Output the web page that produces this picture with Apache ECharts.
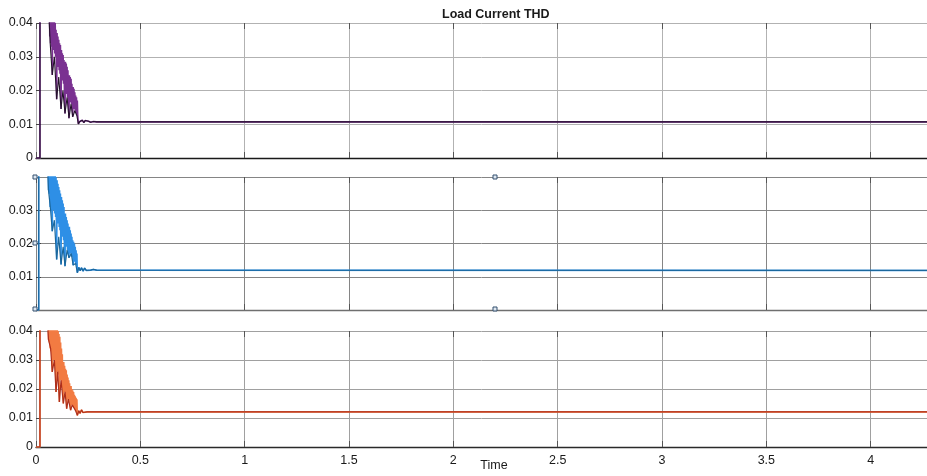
<!DOCTYPE html>
<html>
<head>
<meta charset="utf-8">
<script src="https://cdn.jsdelivr.net/npm/echarts@6/dist/echarts.min.js"></script>
<style>
  html, body { margin: 0; padding: 0; background: #ffffff; }
  #chart { width: 927px; height: 476px; }
</style>
</head>
<body>
<div id="chart"></div>
<script>
// Phase A load current THD (raw, sampled densely through the start-up transient)
const phaseATime = [0, 0.019, 0.019, 0.035, 0.05,
  0.060, 0.062, 0.064, 0.066, 0.068, 0.070, 0.072, 0.074, 0.076, 0.078, 0.080, 0.082, 0.084, 0.086, 0.088,
  0.090, 0.092, 0.094, 0.096, 0.099, 0.101, 0.103, 0.105, 0.107, 0.109, 0.111, 0.113, 0.115, 0.117, 0.120,
  0.122, 0.124, 0.126, 0.128, 0.130, 0.132, 0.134, 0.136, 0.139, 0.141, 0.143, 0.145, 0.147, 0.149, 0.151,
  0.153, 0.155, 0.158, 0.160, 0.162, 0.164, 0.166, 0.168, 0.170, 0.172, 0.174, 0.176, 0.178, 0.180, 0.182,
  0.184, 0.186, 0.188, 0.190, 0.192, 0.194, 0.196, 0.198, 0.200, 0.203,
  0.210, 0.215, 0.222, 0.229, 0.236, 0.243, 0.252, 0.262, 0.275, 0.29, 4.27];
const phaseAThd = [0, 0, 0.075, 0.062, 0.058,
  0.055, 0.041, 0.052, 0.036, 0.050, 0.034, 0.047, 0.033, 0.045, 0.0246, 0.044, 0.033, 0.043, 0.032, 0.042,
  0.031, 0.040, 0.030, 0.038, 0.0174, 0.037, 0.028, 0.036, 0.027, 0.035, 0.026, 0.034, 0.025, 0.0335, 0.0145,
  0.032, 0.024, 0.031, 0.023, 0.0305, 0.022, 0.029, 0.021, 0.0132, 0.0285, 0.020, 0.028, 0.019, 0.027, 0.018,
  0.026, 0.0175, 0.0118, 0.0245, 0.017, 0.024, 0.0165, 0.0235, 0.016, 0.022, 0.0155, 0.0122, 0.021, 0.015, 0.0205,
  0.0145, 0.0195, 0.014, 0.0185, 0.0135, 0.018, 0.013, 0.017, 0.0125, 0.0101,
  0.0108, 0.0104, 0.0112, 0.0105, 0.0111, 0.0106, 0.0109, 0.0106, 0.0108, 0.0107, 0.0107];
// Phase A load current THD (cycle-sampled)
const phaseAFiltTime = [0, 0.019, 0.019, 0.05, 0.068, 0.078, 0.088, 0.099, 0.109, 0.120, 0.129, 0.139,
  0.149, 0.158, 0.168, 0.176, 0.186, 0.196, 0.203, 0.210, 0.215, 0.222, 0.229, 0.236, 0.243, 0.252, 0.262,
  0.275, 0.29, 4.27];
const phaseAFilt = [0, 0, 0.075, 0.058, 0.034, 0.0246, 0.030, 0.0174, 0.024, 0.0145, 0.020, 0.0132,
  0.018, 0.0118, 0.016, 0.0122, 0.014, 0.0125, 0.0101, 0.0108, 0.0104, 0.0112, 0.0105, 0.0111, 0.0106, 0.0109,
  0.0106, 0.0108, 0.0107, 0.0107];

// Phase B load current THD
const phaseBTime = [0, 0.013, 0.013, 0.04, 0.058,
  0.060, 0.062, 0.064, 0.066, 0.068, 0.070, 0.072, 0.074, 0.076, 0.078, 0.080, 0.082, 0.084, 0.086, 0.088,
  0.090, 0.092, 0.094, 0.096, 0.099, 0.101, 0.103, 0.105, 0.107, 0.109, 0.111, 0.113, 0.115, 0.117, 0.120,
  0.122, 0.124, 0.126, 0.128, 0.130, 0.132, 0.134, 0.136, 0.139, 0.141, 0.143, 0.145, 0.147, 0.149, 0.151,
  0.153, 0.155, 0.158, 0.160, 0.162, 0.164, 0.166, 0.168, 0.170, 0.172, 0.174, 0.176, 0.178, 0.180, 0.182,
  0.184, 0.186, 0.188, 0.190, 0.192, 0.194, 0.196, 0.198,
  0.205, 0.212, 0.218, 0.226, 0.233, 0.241, 0.250, 0.262, 0.275, 0.29, 4.27];
const phaseBThd = [0, 0, 0.07, 0.065, 0.06,
  0.036, 0.050, 0.035, 0.048, 0.031, 0.047, 0.030, 0.045, 0.032, 0.0237, 0.044, 0.031, 0.043, 0.030, 0.042,
  0.029, 0.041, 0.028, 0.040, 0.0152, 0.039, 0.027, 0.038, 0.026, 0.037, 0.025, 0.036, 0.024, 0.035, 0.0137,
  0.034, 0.023, 0.033, 0.022, 0.032, 0.021, 0.031, 0.020, 0.0132, 0.029, 0.019, 0.028, 0.019, 0.027, 0.018,
  0.026, 0.018, 0.0157, 0.025, 0.017, 0.024, 0.017, 0.023, 0.016, 0.022, 0.016, 0.021, 0.0135, 0.0205, 0.015,
  0.020, 0.0145, 0.019, 0.014, 0.018, 0.0135, 0.017, 0.0112,
  0.0128, 0.0118, 0.0127, 0.0117, 0.0126, 0.0119, 0.0124, 0.0120, 0.0122, 0.0120, 0.0119];
const phaseBFiltTime = [0, 0.013, 0.013, 0.04, 0.060, 0.070, 0.078, 0.088, 0.099, 0.109, 0.120, 0.130,
  0.139, 0.149, 0.158, 0.169, 0.178, 0.190, 0.198, 0.205, 0.212, 0.218, 0.226, 0.233, 0.241, 0.250, 0.262,
  0.275, 0.29, 4.27];
const phaseBFilt = [0, 0, 0.07, 0.065, 0.036, 0.030, 0.0237, 0.027, 0.0152, 0.022, 0.0137, 0.019,
  0.0132, 0.018, 0.0157, 0.017, 0.0135, 0.014, 0.0112, 0.0128, 0.0118, 0.0127, 0.0117, 0.0126, 0.0119, 0.0124,
  0.0120, 0.0122, 0.0120, 0.0119];

// Phase C load current THD
const phaseCTime = [0, 0.019, 0.019, 0.04, 0.058,
  0.060, 0.062, 0.064, 0.066, 0.068, 0.070, 0.072, 0.074, 0.076, 0.078, 0.080, 0.082, 0.084, 0.086, 0.088,
  0.090, 0.092, 0.094, 0.096, 0.098, 0.100, 0.102, 0.104, 0.106, 0.108, 0.110, 0.112, 0.114, 0.116, 0.118,
  0.120, 0.122, 0.124, 0.126, 0.128, 0.131, 0.133, 0.135, 0.137, 0.139, 0.141, 0.143, 0.145, 0.147, 0.149,
  0.151, 0.153, 0.155, 0.157, 0.159, 0.161, 0.163, 0.166, 0.168, 0.170, 0.172, 0.174, 0.176, 0.178, 0.180,
  0.182, 0.184, 0.186, 0.188, 0.190, 0.192, 0.194, 0.196, 0.198,
  0.205, 0.211, 0.218, 0.225, 0.234, 0.245, 0.26, 4.27];
const phaseCThd = [0, 0, 0.07, 0.06, 0.06,
  0.037, 0.052, 0.036, 0.050, 0.034, 0.049, 0.033, 0.047, 0.032, 0.0259, 0.046, 0.031, 0.045, 0.030, 0.044,
  0.029, 0.043, 0.028, 0.019, 0.042, 0.027, 0.041, 0.026, 0.040, 0.025, 0.039, 0.0155, 0.038, 0.024, 0.036,
  0.023, 0.034, 0.022, 0.032, 0.021, 0.015, 0.0293, 0.020, 0.028, 0.019, 0.027, 0.018, 0.0265, 0.0132, 0.025,
  0.017, 0.024, 0.0165, 0.023, 0.016, 0.022, 0.0155, 0.0127, 0.021, 0.015, 0.020, 0.0145, 0.0195, 0.014, 0.019,
  0.0135, 0.018, 0.013, 0.0175, 0.0125, 0.017, 0.012, 0.0165, 0.0109,
  0.0125, 0.0116, 0.0128, 0.0119, 0.0123, 0.0121, 0.0121, 0.0121];
const phaseCFiltTime = [0, 0.019, 0.019, 0.04, 0.060, 0.070, 0.078, 0.088, 0.096, 0.104, 0.112, 0.120,
  0.131, 0.139, 0.147, 0.155, 0.166, 0.174, 0.182, 0.190, 0.198, 0.205, 0.211, 0.218, 0.225, 0.234, 0.245,
  0.26, 4.27];
const phaseCFilt = [0, 0, 0.07, 0.06, 0.037, 0.034, 0.0259, 0.030, 0.019, 0.026, 0.0155, 0.023,
  0.015, 0.019, 0.0132, 0.0165, 0.0127, 0.0145, 0.0135, 0.0125, 0.0109, 0.0125, 0.0116, 0.0128, 0.0119, 0.0123,
  0.0121, 0.0121, 0.0121];

const FONT = 'Liberation Sans, Arial, Helvetica, sans-serif';
const zip = (t, v) => t.map((x, i) => [x, v[i]]);

const grids = [
  { left: 36, right: 0, top: 23, height: 135 },
  { left: 36, right: 0, top: 177, height: 133 },
  { left: 36, right: 0, top: 331, height: 116 }
];
const gridColor = ['#b2b2b2', '#858585', '#a0a0a0'];
const baseColor = ['#1a1a1a', '#6f6f6f', '#2a2a2a'];

const xAxes = [];
const yAxes = [];
grids.forEach((g, i) => {
  // bottom time axis with vertical grid
  xAxes.push({
    type: 'value', gridIndex: i, min: 0, max: 4.27, interval: 0.5,
    axisLine: { show: true, lineStyle: { color: baseColor[i], width: 1.3 } },
    axisTick: { show: true, inside: true, length: 6, lineStyle: { color: '#555' } },
    splitLine: { show: true, lineStyle: { color: gridColor[i], width: 1 } },
    axisLabel: {
      show: i === 2, showMaxLabel: false, margin: 7,
      color: '#1a1a1a', fontSize: 12.5, fontFamily: FONT
    }
  });
  // top edge ticks
  xAxes.push({
    type: 'value', gridIndex: i, position: 'top', min: 0, max: 4.27, interval: 0.5,
    axisLine: { show: false },
    axisTick: { show: true, inside: true, length: 6, lineStyle: { color: '#555' } },
    splitLine: { show: false },
    axisLabel: { show: false }
  });
  yAxes.push({
    type: 'value', gridIndex: i, min: 0, max: 0.04, interval: 0.01,
    axisLine: { show: false },
    axisTick: { show: true, inside: true, length: 5, lineStyle: { color: '#444' } },
    splitLine: { show: true, lineStyle: { color: gridColor[i], width: 1 } },
    axisLabel: {
      margin: 3, color: '#1a1a1a', fontSize: 12.5, fontFamily: FONT,
      showMinLabel: i !== 1, showMaxLabel: i !== 1,
      formatter: v => String(+v.toFixed(2))
    }
  });
});

function line(name, gridIdx, data, color, width, z) {
  return {
    name, type: 'line', xAxisIndex: gridIdx * 2, yAxisIndex: gridIdx,
    data, showSymbol: false, symbol: 'none', clip: true, z,
    lineStyle: { color, width }, animation: false
  };
}

const series = [
  line('Phase A', 0, zip(phaseATime, phaseAThd), '#7a3191', 1.6, 2),
  line('Phase A cycle', 0, zip(phaseAFiltTime, phaseAFilt), '#24122b', 1.1, 3),
  line('Phase B', 1, zip(phaseBTime, phaseBThd), '#2e8fe6', 1.6, 2),
  line('Phase B cycle', 1, zip(phaseBFiltTime, phaseBFilt), '#1b679c', 1.2, 3),
  line('Phase C', 2, zip(phaseCTime, phaseCThd), '#f27b42', 1.6, 2),
  line('Phase C cycle', 2, zip(phaseCFiltTime, phaseCFilt), '#ad2f1c', 1.2, 3)
];

// selection handles around the middle axes
const handlePts = [[35, 177], [35, 243], [35, 309], [495, 177], [495, 309]];
const handles = handlePts.map(p => ({
  type: 'rect', shape: { x: p[0] - 2, y: p[1] - 2, width: 4, height: 4 },
  style: { fill: '#dfe8f2', stroke: '#34506e', lineWidth: 1 }, z: 100
}));

const chart = echarts.init(document.getElementById('chart'), null, { renderer: 'canvas' });
chart.setOption({
  backgroundColor: '#ffffff',
  animation: false,
  title: {
    text: 'Load Current THD', left: 437, top: 3,
    textStyle: { fontSize: 12.5, fontWeight: 'bold', color: '#1a1a1a', fontFamily: FONT }
  },
  grid: grids,
  xAxis: xAxes,
  yAxis: yAxes,
  series,
  graphic: handles.concat([{
    type: 'text', x: 494, y: 466, z: 100,
    style: {
      text: 'Time', fill: '#1a1a1a', font: '12.5px ' + FONT,
      textAlign: 'center', textVerticalAlign: 'middle'
    }
  }])
});
</script>
</body>
</html>
